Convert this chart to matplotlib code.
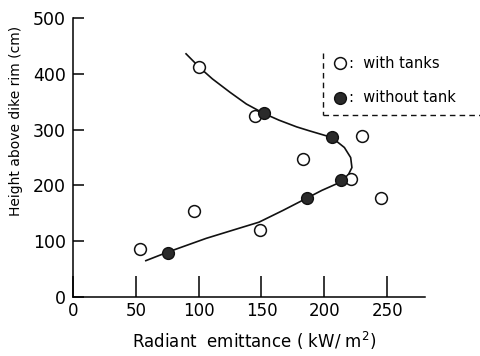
import matplotlib
matplotlib.use('Agg')
import matplotlib.pyplot as plt
from matplotlib.lines import Line2D

# open circles: with tanks
with_x = [53, 96, 100, 145, 149, 183, 221, 230, 245]
with_y = [86, 154, 413, 325, 120, 248, 212, 289, 177]

# filled circles: without tank
without_x = [76, 152, 186, 206, 213]
without_y = [79, 329, 177, 287, 209]

# hand-drawn trend curve
curve_x = [90, 101, 111, 125, 138, 152, 164, 178, 188, 206, 216, 221, 222,
           218, 212, 198, 186, 167, 148, 132, 106, 75, 58]
curve_y = [436, 411, 391, 367, 346, 329, 317, 305, 298, 286, 268, 250, 232,
           214, 205, 191, 177, 155, 134, 123, 105, 80, 65]

xticks = [0, 50, 100, 150, 200, 250]
yticks = [0, 100, 200, 300, 400, 500]

plt.rcParams['font.family'] = ['DejaVu Sans']

fig = plt.figure(figsize=(4.8, 3.56), dpi=100)
ax = fig.add_axes([0.152, 0.166, 0.733, 0.783])

ax.plot(curve_x, curve_y, color='#111111', lw=1.2, zorder=2, solid_joinstyle='round')
ax.plot(with_x, with_y, 'o', ms=8.5, mfc='white', mec='#111111', mew=1.1, zorder=3)
ax.plot(without_x, without_y, 'o', ms=8.5, mfc='#2a2a2a', mec='#111111', mew=1.0, zorder=4)

ax.set_xlim(0, 280)
ax.set_ylim(0, 500)
ax.set_xticks(xticks)
ax.set_yticks(yticks)
for s in ['top', 'right']:
    ax.spines[s].set_visible(False)
for s in ['left', 'bottom']:
    ax.spines[s].set_linewidth(1.1)
ax.tick_params(axis='x', direction='in', length=15, width=1.1, labelsize=12, pad=4)
ax.tick_params(axis='y', direction='in', length=8, width=1.1, labelsize=12.5, pad=5)

fig.text(0.53, 0.012, 'Radiant  emittance ( kW/ m$^2$)', ha='center', va='bottom', fontsize=12)
fig.text(0.018, 0.66, 'Height above dike rim (cm)', rotation=90, ha='left', va='center', fontsize=10)

# dashed legend frame
fig.add_artist(Line2D([323 / 480, 323 / 480], [1 - 53 / 356, 1 - 115 / 356],
                      transform=fig.transFigure, color='#111111', lw=1, ls=(0, (4, 3))))
fig.add_artist(Line2D([323 / 480, 1.0], [1 - 115 / 356, 1 - 115 / 356],
                      transform=fig.transFigure, color='#111111', lw=1, ls=(0, (4, 3))))
fig.add_artist(Line2D([340 / 480], [1 - 63 / 356], transform=fig.transFigure, marker='o',
                      ms=8.5, mfc='white', mec='#111111', mew=1.1, ls='none'))
fig.add_artist(Line2D([340 / 480], [1 - 98 / 356], transform=fig.transFigure, marker='o',
                      ms=8.5, mfc='#2a2a2a', mec='#111111', mew=1.0, ls='none'))
fig.text(349 / 480, 1 - 63 / 356, ':  with tanks', ha='left', va='center', fontsize=10.5)
fig.text(349 / 480, 1 - 98 / 356, ':  without tank', ha='left', va='center', fontsize=10.5)

fig.savefig('out.png', dpi=100, facecolor='white')
